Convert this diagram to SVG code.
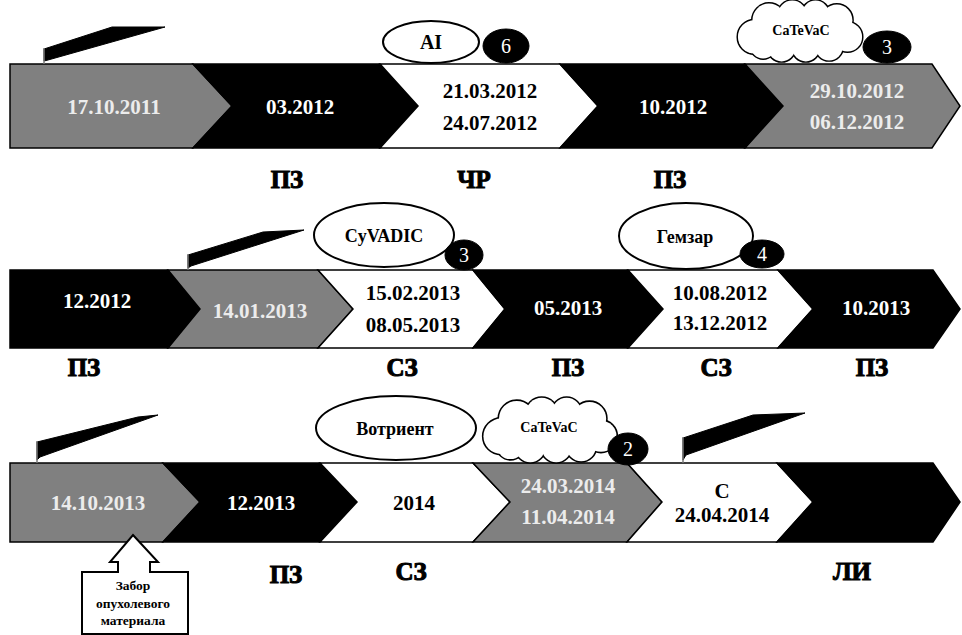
<svg xmlns="http://www.w3.org/2000/svg" xmlns:xlink="http://www.w3.org/1999/xlink" width="962" height="635" viewBox="0 0 962 635">
<style>
.seg{stroke:#000;stroke-width:1.5;stroke-linejoin:miter}
.gr{fill:#808080}.bk{fill:#000}.wh{fill:#fff}
.t{font-family:"Liberation Serif","Times New Roman",serif;font-weight:bold;font-size:21px;text-anchor:middle}
.tw{fill:#fff}.tg{fill:#ececec}.tk{fill:#000}
.lab{font-family:"Liberation Serif","Times New Roman",serif;font-weight:bold;font-size:25px;text-anchor:middle;fill:#000;stroke:#000;stroke-width:1}
.el{fill:#fff;stroke:#000;stroke-width:2}
.et{font-family:"Liberation Serif","Times New Roman",serif;font-weight:bold;font-size:18px;text-anchor:middle;fill:#000}
.ct{font-family:"Liberation Serif","Times New Roman",serif;font-weight:bold;font-size:14px;text-anchor:middle;fill:#000}
.nb{fill:#000;stroke:#000;stroke-width:1}
.nt{font-family:"Liberation Serif","Times New Roman",serif;font-size:20px;text-anchor:middle;fill:#fff}
.sc{fill:#000;stroke:#000;stroke-width:1}
.co{fill:#fff;stroke:#000;stroke-width:3}
.cf{fill:#fff;stroke:none}
.small{font-family:"Liberation Serif","Times New Roman",serif;font-weight:bold;font-size:13.5px;text-anchor:middle;fill:#000}
</style>
<defs>
<g id="cloud">
<circle cx="-47" cy="6" r="17"/><circle cx="-32" cy="-11" r="17"/><circle cx="-8" cy="-16" r="15"/><circle cx="16" cy="-17" r="14"/><circle cx="38" cy="-11" r="16"/><circle cx="49" cy="6" r="15"/><circle cx="30" cy="16" r="14"/><circle cx="6" cy="17" r="14"/><circle cx="-19" cy="17" r="14"/><circle cx="-38" cy="15" r="13"/><ellipse cx="0" cy="0" rx="45" ry="18"/>
</g>
</defs>

<g id="row1">
<polygon class="seg gr" points="10,64 193,64 232,106 193,148 10,148"/>
<polygon class="seg bk" points="193,64 380,64 418,106 380,148 193,148 232,106"/>
<polygon class="seg wh" points="380,64 560,64 598,106 560,148 380,148 418,106"/>
<polygon class="seg bk" points="560,64 745,64 783,106 745,148 560,148 598,106"/>
<polygon class="seg gr" points="745,64 932,64 960,106 932,148 745,148 783,106"/>
</g>
<g id="row2">
<polygon class="seg bk" points="10,270 168,270 200,309 168,348 10,348"/>
<polygon class="seg gr" points="168,270 318,270 353,309 318,348 168,348 200,309"/>
<polygon class="seg wh" points="318,270 473,270 505,309 473,348 318,348 353,309"/>
<polygon class="seg bk" points="473,270 628,270 663,309 628,348 473,348 505,309"/>
<polygon class="seg wh" points="628,270 778,270 813,309 778,348 628,348 663,309"/>
<polygon class="seg bk" points="778,270 933,270 960,309 933,348 778,348 813,309"/>
</g>
<g id="row3">
<polygon class="seg gr" points="10,463 163,463 200,502 163,542 10,542"/>
<polygon class="seg bk" points="163,463 320,463 357,502 320,542 163,542 200,502"/>
<polygon class="seg wh" points="320,463 473,463 510,502 473,542 320,542 357,502"/>
<polygon class="seg gr" points="473,463 627,463 662,502 627,542 473,542 510,502"/>
<polygon class="seg wh" points="627,463 777,463 813,502 777,542 627,542 662,502"/>
<polygon class="seg bk" points="777,463 933,463 960,502 933,542 777,542 813,502"/>
</g>

<g id="dates">
<text class="t tg" x="114" y="114">17.10.2011</text>
<text class="t tw" x="300" y="114">03.2012</text>
<text class="t tk" x="490" y="98">21.03.2012</text>
<text class="t tk" x="490" y="130">24.07.2012</text>
<text class="t tw" x="673" y="114">10.2012</text>
<text class="t tg" x="857" y="98">29.10.2012</text>
<text class="t tg" x="857" y="129">06.12.2012</text>

<text class="t tw" x="97" y="308">12.2012</text>
<text class="t tg" x="260" y="318">14.01.2013</text>
<text class="t tk" x="413" y="300">15.02.2013</text>
<text class="t tk" x="413" y="332">08.05.2013</text>
<text class="t tw" x="568" y="315">05.2013</text>
<text class="t tk" x="720" y="300">10.08.2012</text>
<text class="t tk" x="720" y="330">13.12.2012</text>
<text class="t tw" x="876" y="315">10.2013</text>

<text class="t tg" x="98" y="510">14.10.2013</text>
<text class="t tw" x="261" y="510">12.2013</text>
<text class="t tk" x="414" y="510">2014</text>
<text class="t tg" x="568" y="493">24.03.2014</text>
<text class="t tg" x="568" y="524">11.04.2014</text>
<text class="t tk" x="722" y="498">С</text>
<text class="t tk" x="722" y="522">24.04.2014</text>
</g>

<g id="labels">
<text class="lab" x="287" y="188">ПЗ</text>
<text class="lab" x="474" y="188">ЧР</text>
<text class="lab" x="670" y="188">ПЗ</text>
<text class="lab" x="84" y="376">ПЗ</text>
<text class="lab" x="402" y="376">СЗ</text>
<text class="lab" x="568" y="376">ПЗ</text>
<text class="lab" x="716" y="376">СЗ</text>
<text class="lab" x="872" y="376">ПЗ</text>
<text class="lab" x="286" y="583">ПЗ</text>
<text class="lab" x="411" y="580">СЗ</text>
<text class="lab" x="852" y="580">ЛИ</text>
</g>

<g id="scalpels">
<polygon class="sc" points="44,49 112,27 165,27 48,60 44,61"/>
<line x1="44" y1="48" x2="44" y2="64" stroke="#777" stroke-width="1.5"/>
<polygon class="sc" points="188,255 263,232 304,230 191,266 188,268"/>
<line x1="188" y1="254" x2="188" y2="270" stroke="#777" stroke-width="1.5"/>
<polygon class="sc" points="37,442 138,417 158,415 40,457 37,460"/>
<line x1="37" y1="441" x2="37" y2="463" stroke="#777" stroke-width="1.5"/>
<polygon class="sc" points="683,438 753,415 805,413 686,455 683,460"/>
<line x1="683" y1="437" x2="683" y2="463" stroke="#777" stroke-width="1.5"/>
</g>

<g id="drug-ai">
<ellipse class="el" cx="431" cy="42" rx="48" ry="21"/>
<text class="et" x="431" y="49" style="font-size:20px">AI</text>
</g>
<g id="num6">
<ellipse class="nb" cx="506" cy="46" rx="23" ry="17"/>
<text class="nt" x="506" y="53">6</text>
</g>
<g id="cloud1">
<use xlink:href="#cloud" class="co" transform="translate(800,31) scale(0.97,0.98)"/>
<use xlink:href="#cloud" class="cf" transform="translate(800,31) scale(0.97,0.98)"/>
<text class="ct" x="801" y="35">CaTeVaC</text>
</g>
<g id="num3a">
<ellipse class="nb" cx="887" cy="47" rx="24" ry="16"/>
<text class="nt" x="887" y="54">3</text>
</g>

<g id="drug-cyvadic">
<ellipse class="el" cx="384" cy="235" rx="70" ry="32"/>
<text class="et" x="384" y="242">CyVADIC</text>
</g>
<g id="num3b">
<ellipse class="nb" cx="464" cy="255" rx="19" ry="15"/>
<text class="nt" x="464" y="262">3</text>
</g>
<g id="drug-gemzar">
<ellipse class="el" cx="686" cy="236" rx="67" ry="33"/>
<text class="et" x="685" y="243">Гемзар</text>
</g>
<g id="num4">
<ellipse class="nb" cx="762" cy="254" rx="22" ry="14"/>
<text class="nt" x="762" y="261">4</text>
</g>

<g id="drug-votrient">
<ellipse class="el" cx="396" cy="428" rx="80" ry="32"/>
<text class="et" x="395" y="435">Вотриент</text>
</g>
<g id="cloud2">
<use xlink:href="#cloud" class="co" transform="translate(550,430) scale(1.04,1.04)"/>
<use xlink:href="#cloud" class="cf" transform="translate(550,430) scale(1.04,1.04)"/>
<text class="ct" x="549" y="432">CaTeVaC</text>
</g>
<g id="num2">
<ellipse class="nb" cx="628" cy="449" rx="20" ry="16"/>
<text class="nt" x="628" y="456">2</text>
</g>

<g id="callout">
<path d="M133,535 L158,562 L150,562 L150,572 L188,572 L188,634 L82,634 L82,572 L118,572 L118,562 L110,562 Z" fill="#fff" stroke="#000" stroke-width="2" stroke-linejoin="miter"/>
<text class="small" x="133" y="590">Забор</text>
<text class="small" x="133" y="608">опухолевого</text>
<text class="small" x="133" y="625">материала</text>
</g>
</svg>
